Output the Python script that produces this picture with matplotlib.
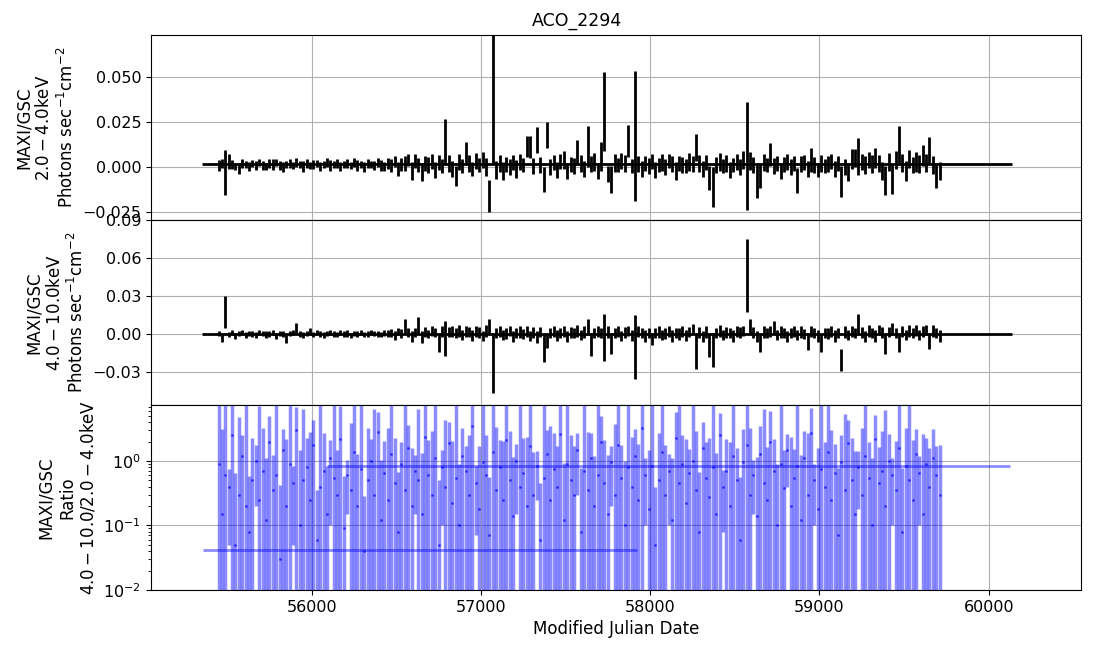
"""MAXI/GSC light curves and hardness ratio for ACO_2294."""
import numpy as np
import matplotlib
matplotlib.use('Agg')
import matplotlib.pyplot as plt

SOURCE = 'ACO_2294'

# light curve binning (MJD)
BIN_START = 55450
BIN_WIDTH = 20
N_BINS = 214

# 2.0-4.0 keV flux and error, in 1e-3 photons/s/cm2
soft_flux = [
    1.0, 2.0, -3.0, 3.0, 1.5, 0.5, -1.0, 2.0, 1.5, 0.5,
    2.0, 1.0, 2.5, 1.0, 0.5, 2.0, 1.5, 2.5, 1.0, 0.0,
    1.5, 2.0, 1.0, 2.5, 1.5, 0.5, 2.0, 1.0, 1.5, 2.0,
    0.5, 1.5, 2.5, 1.0, 1.5, 2.0, 0.5, 1.5, 2.0, 1.0,
    2.5, 1.0, 1.5, 0.0, 2.0, 1.5, 1.0, 2.5, 1.0, 0.5,
    2.0, 1.0, 3.0, -1.0, 1.5, 2.0, 4.0, -2.0, 3.5, 1.0,
    -2.5, 2.0, 1.0, 3.0, -1.5, 2.5, 0.5, 14.3, 2.0, -1.0,
    -5.0, 3.0, 0.5, 8.0, 2.0, -1.0, 3.5, 1.0, 4.0, 0.0,
    -16.0, 41.0, -1.5, 2.0, -2.0, 1.5, 0.0, 2.5, -1.0, 3.0,
    1.0, 11.3, 11.0, 0.5, 15.0, 1.0, -7.0, 17.8, 0.0, 2.5,
    -1.5, 3.0, 4.0, -2.0, 1.5, 0.5, 8.0, 2.0, -1.0, 11.5,
    1.5, 3.0, -2.0, 6.0, 31.0, -4.0, -7.0, 2.5, 1.0, 3.5,
    2.0, 14.4, 0.5, 17.3, 1.5, -1.0, 2.0, 0.5, 3.0, -1.5,
    1.0, 2.5, 0.0, 3.5, 1.5, -2.0, 2.0, 1.0, 0.5, 3.0,
    1.5, 11.0, 2.0, -1.0, 2.5, -6.0, -11.0, 1.0, 3.0, 0.5,
    2.0, -1.5, 1.0, 3.0, 0.0, 4.0, 6.2, 3.5, 1.0, -8.0,
    -5.0, 2.5, 1.0, 7.0, 0.5, 2.0, -2.0, 1.5, 3.0, 0.0,
    2.0, -7.5, 1.5, 2.5, -1.0, 4.0, 1.0, -1.5, 2.0, 0.5,
    1.5, 3.0, -1.0, 2.0, -8.0, 0.0, -3.0, 4.5, 5.0, 5.8,
    3.0, 1.0, 4.0, 1.5, 5.0, 2.0, -2.0, -7.5, 3.0, -7.0,
    4.0, 12.5, 2.0, -2.0, 4.5, 1.0, 3.0, 1.5, 6.5, 2.5,
    9.0, 1.0, -5.0, -2.0,
]
soft_err = [
    3.0, 2.5, 12.7, 4.0, 2.5, 2.0, 3.0, 2.5, 2.0, 2.5,
    2.0, 2.5, 2.0, 2.5, 2.0, 2.5, 3.0, 2.0, 2.5, 3.0,
    2.0, 2.5, 2.0, 2.5, 2.0, 3.0, 2.5, 2.0, 2.5, 2.0,
    2.5, 2.0, 2.5, 3.0, 2.0, 2.5, 2.5, 2.0, 2.5, 2.0,
    2.5, 3.0, 2.0, 3.0, 2.5, 2.0, 2.5, 2.5, 3.0, 2.5,
    3.0, 3.5, 3.0, 4.0, 3.5, 4.0, 3.5, 5.0, 4.0, 4.0,
    5.0, 4.0, 4.5, 4.0, 4.5, 4.0, 4.0, 12.3, 4.5, 4.5,
    5.5, 4.5, 4.0, 6.0, 4.5, 4.0, 4.5, 4.0, 4.5, 5.0,
    8.8, 39.0, 5.0, 4.5, 5.0, 4.0, 4.5, 4.0, 5.0, 4.5,
    4.0, 5.8, 6.0, 4.5, 7.0, 4.5, 7.0, 7.3, 4.5, 4.0,
    4.5, 4.0, 5.0, 4.5, 4.0, 4.5, 7.0, 4.5, 4.5, 11.5,
    4.5, 5.0, 4.5, 8.0, 22.0, 4.5, 7.5, 5.0, 4.0, 4.5,
    4.5, 8.9, 4.0, 36.2, 4.5, 4.5, 4.0, 4.5, 4.0, 4.5,
    4.0, 4.5, 4.5, 4.0, 4.5, 5.0, 4.0, 4.5, 4.0, 5.0,
    4.5, 7.5, 4.5, 4.5, 4.0, 6.8, 11.0, 4.5, 5.0, 4.0,
    4.5, 4.5, 4.0, 4.5, 4.5, 5.0, 30.1, 5.0, 4.5, 9.0,
    6.5, 4.5, 4.0, 6.5, 4.5, 4.0, 4.5, 4.0, 4.5, 4.5,
    4.0, 7.0, 4.5, 4.0, 4.5, 6.5, 4.5, 4.0, 4.5, 4.0,
    4.5, 4.0, 4.5, 4.0, 8.5, 4.5, 5.0, 5.5, 5.0, 10.2,
    4.5, 5.0, 4.5, 5.0, 5.5, 4.5, 5.0, 8.0, 5.0, 8.0,
    5.0, 10.5, 5.0, 5.5, 5.0, 4.5, 5.5, 5.0, 6.0, 5.0,
    7.5, 5.0, 6.5, 5.0,
]

# 4.0-10.0 keV flux and error, in 1e-3 photons/s/cm2
hard_flux = [
    0.5, -3.5, 17.4, -0.5, 1.0, -1.5, 0.5, 1.0, -1.0, 0.5,
    0.0, -1.0, 1.0, 0.5, -0.5, 0.0, 1.0, -1.5, 0.5, 0.0,
    -4.0, 0.5, 1.0, 4.5, 0.0, -1.0, 0.5, 2.0, -0.5, 1.0,
    0.0, -1.0, 0.5, 1.0, 0.0, -0.5, 1.0, 0.0, 0.5, -1.0,
    0.5, 0.0, 1.0, -0.5, 0.0, 1.5, 0.5, 0.0, -0.5, 1.0,
    0.5, 1.0, -1.0, 2.0, 0.5, 6.0, 1.0, -2.0, 1.5, 7.0,
    -2.5, 1.5, 0.0, 2.5, 1.0, -7.0, 2.0, -3.5, 1.5, 2.0,
    0.5, 2.5, -1.0, 2.0, 1.5, -1.0, 2.0, 1.0, -1.5, 2.5,
    6.0, -23.6, 1.0, 2.0, -1.0, 0.5, 2.5, -2.0, 1.0, 1.5,
    0.0, 2.0, -1.5, 1.0, -2.5, 1.5, -11.0, -5.5, 1.0, 2.0,
    -1.0, 0.5, 2.0, -2.0, 1.0, 0.5, 2.5, -1.0, 1.5, 5.5,
    -8.0, 1.0, 2.0, 1.0, -2.7, 1.5, -8.0, 0.5, 2.0, -1.5,
    1.0, 2.5, -1.0, -10.3, 2.0, 1.0, -1.5, 0.5, -4.0, 1.0,
    1.5, -1.0, 0.5, 2.0, -1.5, 1.0, 0.0, 2.0, -1.0, 1.5,
    4.0, -13.5, 1.0, -2.0, 1.5, -9.0, -12.5, 1.0, 2.5, -1.0,
    1.0, 0.5, -1.5, 2.0, 1.0, 2.5, 46.2, 6.0, 1.0, -2.0,
    -7.0, 1.5, 0.5, 2.0, 5.0, -1.0, 1.5, 0.5, -2.0, 1.0,
    2.0, -1.0, 1.5, 0.0, -6.0, 2.0, 1.0, -1.5, -7.0, 1.0,
    0.5, 2.0, -1.5, 1.0, -20.6, 1.5, -1.0, 2.0, 0.5, 7.5,
    1.0, -2.0, 2.5, 0.5, -1.5, 3.0, 1.0, -8.0, 1.5, 4.0,
    1.0, -7.0, 2.0, -1.0, 2.5, 1.0, 3.0, -1.0, 2.0, 3.5,
    -6.0, 2.5, 1.0, -1.5,
]
hard_err = [
    2.0, 2.5, 12.9, 2.0, 2.0, 2.5, 2.0, 2.0, 2.5, 2.0,
    2.0, 2.5, 2.0, 2.0, 2.5, 2.0, 2.0, 2.5, 2.0, 2.0,
    3.0, 2.0, 2.0, 4.0, 2.0, 2.5, 2.0, 2.5, 2.0, 2.0,
    2.0, 2.5, 2.0, 2.0, 2.5, 2.0, 2.0, 2.0, 2.5, 2.0,
    2.0, 2.5, 2.0, 2.0, 2.5, 2.0, 2.0, 2.5, 2.0, 2.5,
    3.0, 3.0, 3.5, 3.0, 3.5, 6.0, 3.5, 4.0, 3.5, 6.5,
    4.5, 4.0, 3.5, 4.0, 3.5, 7.0, 4.0, 13.5, 4.0, 4.5,
    4.0, 4.5, 4.0, 4.5, 4.0, 4.5, 4.0, 4.5, 4.0, 4.5,
    6.0, 22.7, 4.0, 4.5, 4.0, 4.5, 4.0, 4.5, 4.0, 4.5,
    4.0, 4.5, 4.0, 4.5, 4.5, 4.0, 11.0, 5.5, 4.0, 4.5,
    4.5, 4.0, 4.5, 4.0, 4.5, 4.0, 4.5, 4.0, 4.5, 6.0,
    9.0, 4.0, 4.5, 4.0, 18.3, 4.5, 8.0, 4.0, 4.5, 4.0,
    4.5, 4.0, 4.5, 25.3, 4.5, 4.0, 4.5, 4.0, 4.5, 4.0,
    4.5, 4.0, 4.5, 4.0, 4.5, 4.0, 4.5, 4.0, 4.5, 4.0,
    4.0, 14.0, 4.5, 4.0, 4.5, 9.5, 13.3, 4.0, 4.5, 4.0,
    4.5, 4.0, 4.5, 4.0, 4.5, 4.0, 28.6, 6.0, 4.5, 4.0,
    7.0, 4.5, 4.0, 4.5, 5.0, 4.0, 4.5, 4.0, 4.5, 4.0,
    4.5, 4.0, 4.5, 4.0, 6.5, 4.5, 4.0, 4.5, 7.0, 4.0,
    4.5, 4.0, 4.5, 4.0, 8.6, 4.5, 4.0, 4.5, 4.0, 8.0,
    4.5, 4.0, 4.5, 4.0, 4.5, 4.0, 4.5, 8.0, 4.0, 4.5,
    4.0, 7.0, 4.5, 4.0, 4.5, 4.0, 4.5, 4.0, 4.5, 4.0,
    6.0, 4.5, 4.0, 4.5,
]

# hardness ratio (4.0-10.0 / 2.0-4.0 keV) and error
ratio = [
    0.9, 0.15, 0.6, 0.4, 2.5, 0.05, 0.3, 1.2, 0.2, 0.08,
    0.5, 1.0, 0.25, 0.7, 0.12, 2.0, 0.35, 0.6, 0.03, 1.5,
    0.2, 0.9, 0.45, 3.0, 0.1, 0.5, 0.8, 0.25, 1.8, 0.06,
    0.4, 0.7, 0.15, 1.1, 0.55, 0.3, 2.2, 0.09, 0.6, 0.35,
    1.4, 0.2, 0.75, 0.04, 0.5, 1.0, 0.3, 2.8, 0.12, 0.65,
    0.25, 1.3, 0.45, 0.08, 0.9, 0.35, 1.6, 0.2, 0.7, 0.5,
    0.15, 2.4, 0.6, 0.3, 1.1, 0.05, 0.8, 0.4, 1.9, 0.22,
    0.55, 0.1, 1.2, 0.7, 0.3, 3.5, 0.45, 0.18, 0.95, 0.6,
    0.07, 1.4, 0.35, 0.8, 0.25, 2.1, 0.5, 0.14, 1.0, 0.4,
    0.65, 0.2, 1.7, 0.3, 0.85, 0.06, 0.55, 1.3, 0.25, 0.75,
    0.4, 2.6, 0.12, 0.9, 0.5, 0.3, 1.5, 0.08, 0.7, 0.35,
    1.1, 0.2, 0.6, 2.0, 0.45, 0.15, 0.95, 0.3, 1.8, 0.55,
    0.1, 0.8, 0.4, 1.2, 0.25, 3.2, 0.6, 0.18, 0.85, 0.05,
    0.5, 1.4, 0.3, 0.7, 0.12, 2.3, 0.45, 0.9, 0.22, 0.65,
    1.0, 0.35, 0.08, 1.6, 0.55, 0.28, 0.8, 0.15, 2.5, 0.4,
    0.7, 0.2, 1.2, 0.5, 0.06, 0.95, 1.8, 0.3, 0.6, 0.14,
    1.3, 0.45, 0.25, 2.0, 0.7, 0.1, 0.9, 0.38, 1.5, 0.2,
    0.55, 0.85, 0.12, 1.1, 0.3, 2.7, 0.5, 0.18, 0.75, 0.4,
    1.4, 0.25, 0.65, 0.07, 0.95, 0.35, 1.9, 0.5, 0.15, 0.8,
    0.3, 1.2, 0.55, 0.1, 2.2, 0.45, 0.7, 0.2, 1.0, 0.6,
    0.35, 1.6, 0.08, 0.85, 0.5, 0.25, 1.3, 0.65, 0.15, 0.9,
    0.4, 1.1, 0.6, 0.3,
]
ratio_err = [
    8.0, 3.0, 9.0, 0.35, 6.0, 0.6, 4.5, 1.3, 8.0, 0.5,
    1.8, 0.8, 7.0, 2.5, 1.0, 3.0, 0.9, 8.0, 0.4, 1.6,
    2.0, 7.0, 0.4, 4.0, 1.4, 6.0, 1.5, 2.6, 2.5, 0.3,
    7.0, 2.0, 0.7, 1.0, 8.0, 1.2, 5.0, 0.5, 0.45, 3.5,
    7.0, 1.1, 8.0, 0.25, 2.8, 1.2, 6.0, 3.0, 0.9, 1.4,
    3.0, 7.0, 1.8, 0.6, 1.1, 8.0, 2.0, 1.4, 0.55, 6.0,
    1.2, 6.0, 1.5, 2.6, 8.0, 0.45, 0.7, 4.0, 2.2, 1.8,
    7.5, 0.8, 2.0, 1.0, 2.2, 5.0, 0.38, 1.5, 8.0, 1.9,
    0.5, 6.5, 3.0, 1.3, 1.8, 6.0, 2.4, 1.0, 0.85, 7.0,
    1.6, 2.2, 7.0, 1.1, 0.6, 0.4, 8.0, 1.7, 3.2, 2.0,
    1.3, 6.0, 0.8, 7.5, 2.0, 1.4, 1.2, 0.7, 8.0, 2.5,
    1.6, 1.0, 7.0, 3.0, 1.7, 1.1, 0.75, 3.5, 6.0, 1.2,
    0.9, 8.0, 2.0, 1.9, 1.6, 4.5, 0.5, 1.3, 7.0, 0.35,
    2.2, 7.0, 1.5, 0.6, 1.0, 3.5, 7.5, 1.6, 2.0, 0.9,
    8.0, 2.6, 0.6, 2.5, 1.4, 2.0, 7.0, 1.2, 3.0, 0.32,
    1.5, 1.8, 8.0, 1.1, 0.5, 2.2, 6.5, 3.0, 0.45, 1.0,
    2.2, 6.0, 1.4, 4.0, 1.5, 0.8, 7.0, 1.1, 1.1, 2.2,
    1.0, 7.0, 1.1, 1.8, 2.4, 4.0, 0.4, 1.4, 8.0, 1.6,
    7.0, 2.8, 1.2, 0.7, 1.6, 5.0, 2.4, 1.8, 1.3, 0.62,
    3.0, 7.5, 1.4, 1.0, 3.0, 1.2, 2.2, 6.0, 1.6, 0.5,
    1.7, 6.0, 0.7, 2.4, 8.0, 1.9, 1.8, 0.55, 2.5, 1.4,
    1.2, 2.0, 1.1, 1.5,
]

# long-term averages: (centre MJD, half width, value)
soft_mean = (57743, 2392, 0.0015)
hard_mean = (57743, 2392, 0.0001)
ratio_means = [(56640, 1282, 0.041), (58108, 2016, 0.836)]


def plot_lightcurves(output_path='out.png'):
    plt.rcParams['font.size'] = 12
    plt.rcParams['xtick.labelsize'] = 11.5
    plt.rcParams['ytick.labelsize'] = 11.5

    mjd = BIN_START + BIN_WIDTH * np.arange(N_BINS)
    soft = np.array(soft_flux) * 1e-3
    soft_e = np.array(soft_err) * 1e-3
    hard = np.array(hard_flux) * 1e-3
    hard_e = np.array(hard_err) * 1e-3

    fig, axes = plt.subplots(3, 1, sharex=True, figsize=(10.96, 6.54))
    fig.subplots_adjust(left=0.1378, right=0.9863, top=0.9465, bottom=0.0979, hspace=0)
    ax1, ax2, ax3 = axes

    # soft band
    ax1.errorbar(mjd, soft, yerr=soft_e, fmt='none', ecolor='black', elinewidth=2)
    ax1.errorbar(soft_mean[0], soft_mean[2], xerr=soft_mean[1], fmt='none',
                 ecolor='black', elinewidth=2)
    ax1.set_ylim(-0.0294, 0.0733)
    ax1.set_yticks([-0.025, 0.0, 0.025, 0.05])
    ax1.set_ylabel('MAXI/GSC\n$2.0-4.0$keV\nPhotons sec$^{-1}$cm$^{-2}$')
    ax1.grid(True)
    fig.suptitle(SOURCE, x=0.5265, y=0.982, fontsize=12.5)

    # hard band
    ax2.errorbar(mjd, hard, yerr=hard_e, fmt='none', ecolor='black', elinewidth=2)
    ax2.errorbar(hard_mean[0], hard_mean[2], xerr=hard_mean[1], fmt='none',
                 ecolor='black', elinewidth=2)
    ax2.set_ylim(-0.056, 0.09)
    ax2.set_yticks([-0.03, 0.0, 0.03, 0.06, 0.09])
    ax2.set_ylabel('MAXI/GSC\n$4.0-10.0$keV\nPhotons sec$^{-1}$cm$^{-2}$')
    ax2.grid(True)

    # ratio
    ax3.errorbar(mjd, ratio, yerr=ratio_err, fmt='o', color='blue', ms=1.2,
                 elinewidth=2.5, alpha=0.45)
    for centre, half, val in ratio_means:
        ax3.errorbar(centre, val, xerr=half, fmt='none', ecolor='blue',
                     elinewidth=2, alpha=0.45)
    ax3.set_yscale('log')
    ax3.set_ylim(0.01, 7.4)
    ax3.set_ylabel('MAXI/GSC\nRatio\n$4.0-10.0/2.0-4.0$keV')
    ax3.set_xlabel('Modified Julian Date')
    ax3.grid(True)

    ax3.set_xlim(55051, 60545)

    fig.savefig(output_path, dpi=100)
    print(f"Saved: {output_path}")
    return fig


if __name__ == '__main__':
    plot_lightcurves()
